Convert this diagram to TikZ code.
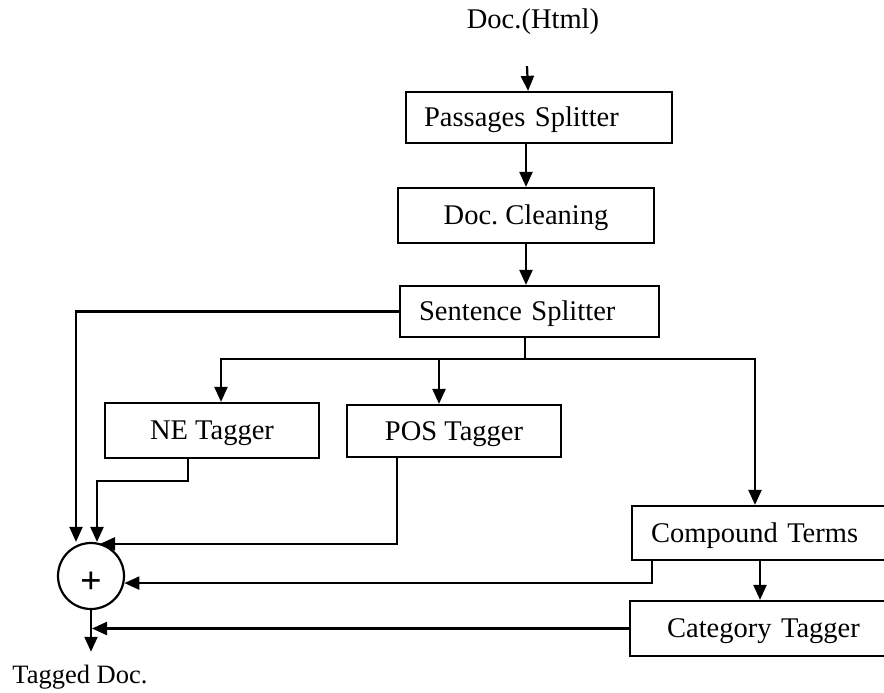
\documentclass[tikz,border=0pt]{standalone}
\usepackage{fontspec}
\setmainfont{Liberation Serif}
\frenchspacing
\usetikzlibrary{arrows.meta,calc}
\tikzset{
  blk/.style={draw, line width=2.2pt, inner sep=0pt, font=\fontsize{28.5}{34}\selectfont,
              text height=18.8pt, text depth=0pt},
  lbox/.style={blk, anchor=west, align=left},
  lbl/.style={inner sep=0pt, font=\fontsize{28.5}{34}\selectfont},
  wire/.style={line width=2.2pt},
  arr/.style={wire, -{Triangle[length=15pt,width=13pt]}},
}
\begin{document}
\begin{tikzpicture}[x=1pt,y=-1pt]
\useasboundingbox (0,0) rectangle (884,693);
\clip (0,0) rectangle (884,693);

% pipeline stages
\node[lbl] (doc) at (533,22) {Doc.(Html)};
\node[lbox, minimum height=51, inner xsep=18, text width=230] (pass) at (405,117.5) {Passages Splitter};
\node[blk, minimum width=256, minimum height=55] (clean) at (526,215.5) {Doc. Cleaning};
\node[lbox, minimum height=51, inner xsep=19, text width=221] (sent) at (399,311.5) {Sentence Splitter};
\node[blk, minimum width=214, minimum height=55] (ne) at (212,430.5) {NE Tagger};
\node[blk, minimum width=214, minimum height=52] (pos) at (454,431) {POS Tagger};
\node[lbox, minimum height=54, inner xsep=19, text width=232] (comp) at (631,533) {Compound Terms};
\node[lbox, minimum height=55, inner xsep=37, text width=196] (cat) at (629,628.5) {Category Tagger};

% combiner and result
\node[draw, circle, line width=2.2pt, minimum size=66, inner sep=0pt,
      label={[lbl, font=\fontsize{38}{40}\selectfont\bfseries, yshift=-7pt]center:+}] (plus) at (91,576) {};
\node[lbl, font=\fontsize{26.5}{30}\selectfont, inner ysep=13pt] (out) at (80,677) {Tagged Doc.};

% main chain
\draw[arr] ($(doc.south)+(-6,31)$) -- ($(pass.north)+(-11,0)$);
\draw[arr] (pass.south -| clean.north) -- (clean.north);
\draw[arr] (clean.south) -- (clean.south |- sent.north);

% sentence splitter outputs
\draw[arr] (sent.west) -| ($(plus.north)+(-15,0)$);
\coordinate (fork) at (525,359);
\draw[wire] (sent.south -| fork) -- (fork);
\draw[arr] (fork) -| ($(ne.north)+(9,0)$);
\draw[arr] (fork) -| ($(pos.north)+(-15,0)$);
\draw[arr] (fork) -| ($(comp.north west)+(124,0)$);

% tagger outputs into the combiner
\draw[arr] ($(ne.south)+(-24,0)$) -- ++(0,22) -| ($(plus.north)+(6,0)$);
\draw[arr] ($(pos.south)+(-57,0)$) |- ($(plus.north)+(9,2)$);
\draw[arr] ($(comp.south west)+(21,0)$) |- (plus.-12);
\draw[arr] ($(comp.south west)+(129,0)$) coordinate (ct) -- (ct |- cat.north);
\draw[arr] (cat.west) -- ($(cat.west -| plus.south)+(1,0)$);
\draw[arr] (plus.south) -- (plus.south |- out.north);
\end{tikzpicture}
\end{document}
